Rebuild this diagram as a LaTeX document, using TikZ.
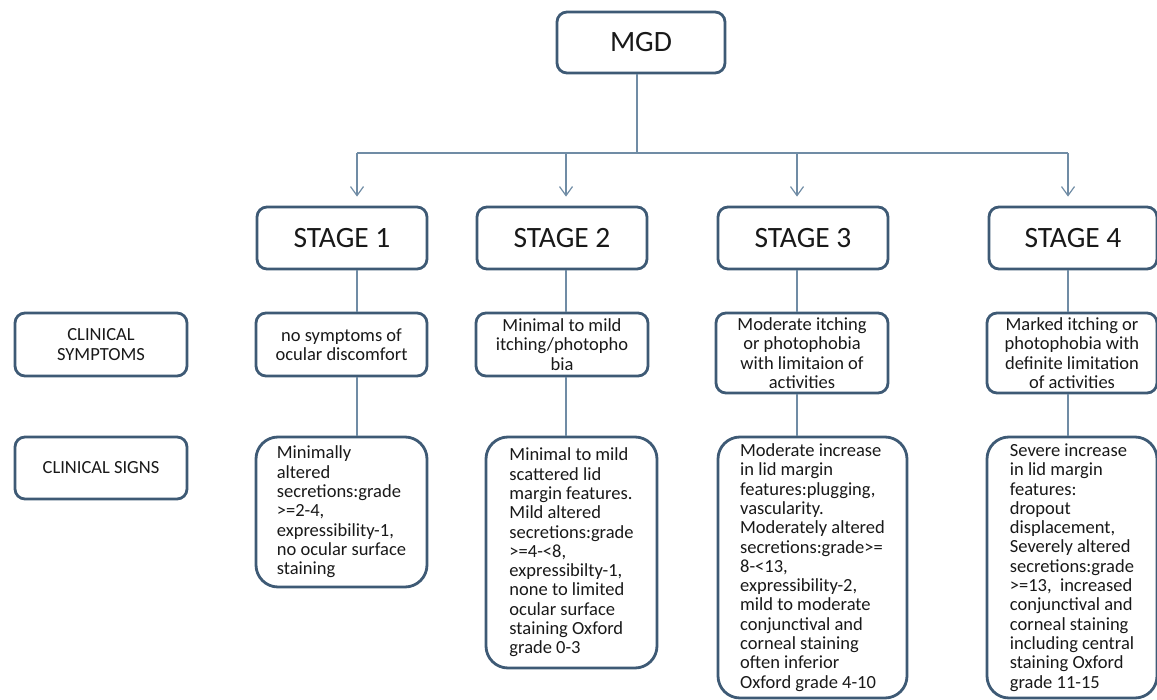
\documentclass[tikz,border=0pt]{standalone}
\usepackage{fontspec}
\setmainfont{Carlito}
\usepackage{tikz}
\usetikzlibrary{arrows.meta}
\definecolor{boxline}{RGB}{62,90,117}
\definecolor{linkline}{RGB}{112,140,165}
\definecolor{txt}{RGB}{25,25,25}

\begin{document}
\begin{tikzpicture}[x=1pt,y=-1pt,
    box/.style={draw=boxline,line width=2.8pt,rounded corners=10pt,fill=white,text=txt,
        align=center,inner sep=0pt,font=\fontsize{18.5}{19.3}\selectfont},
    stagebox/.style={box,minimum width=170pt,minimum height=62pt,font=\fontsize{29.5}{31}\selectfont},
    signbox/.style={box,rounded corners=22pt,align=left},
    link/.style={draw=linkline,line width=1.2pt},
    linkarrow/.style={link,-{Straight Barb[length=9pt,width=13pt,line width=1.2pt]},shorten >=9pt}]
    \useasboundingbox (0,0) rectangle (1157,700);

    \node[stagebox,minimum width=168pt,minimum height=61pt] (mgd) at (641,42.5) {MGD};

    \node[stagebox] (stage1) at (342,238) {STAGE 1};
    \node[stagebox] (stage2) at (562,238) {STAGE 2};
    \node[stagebox] (stage3) at (803,238) {STAGE 3};
    \node[stagebox,minimum width=168pt] (stage4) at (1073,238) {STAGE 4};

    \node[box,minimum width=172pt,minimum height=63pt] (clinsym) at (101,344.5) {CLINICAL\\SYMPTOMS};
    \node[box,minimum width=172pt,minimum height=62pt] (clinsig) at (101,468) {CLINICAL SIGNS};

    \node[box,minimum width=171pt,minimum height=63pt] (sym1) at (341.5,344.5) {no symptoms of\\ocular discomfort};
    \node[box,minimum width=172pt,minimum height=63pt] (sym2) at (562,344.5) {Minimal to mild\\itching/photopho\\bia};
    \node[box,minimum width=172pt,minimum height=80pt] (sym3) at (802,353) {Moderate itching\\or photophobia\\with limitaion of\\activities};
    \node[box,minimum width=170pt,minimum height=80pt] (sym4) at (1072,353) {Marked itching or\\photophobia with\\definite limitation\\of activities};

    \node[signbox,minimum width=171pt,minimum height=150pt] (sig1) at (341.5,512)
        {Minimally\\altered\\secretions:grade\\>=2-4,\\expressibility-1,\\no ocular surface\\staining};
    \node[signbox,minimum width=171pt,minimum height=231pt] (sig2) at (571.5,552.5)
        {Minimal to mild\\scattered lid\\margin features.\\Mild altered\\secretions:grade\\>=4-<8,\\expressibilty-1,\\none to limited\\ocular surface\\staining Oxford\\grade 0-3};
    \node[signbox,minimum width=189pt,minimum height=261pt] (sig3) at (812.5,567.5)
        {Moderate increase\\in lid margin\\features:plugging,\\vascularity.\\Moderately altered\\secretions:grade>=\\8-<13,\\expressibility-2,\\mild to moderate\\conjunctival and\\corneal staining\\often inferior\\Oxford grade 4-10};
    \node[signbox,minimum width=170pt,minimum height=261pt] (sig4) at (1072,567.5)
        {Severe increase\\in lid margin\\features:\\dropout\\displacement,\\Severely altered\\secretions:grade\\>=13,~ increased\\conjunctival and\\corneal staining\\including central\\staining Oxford\\grade 11-15};

    % branch points on the bar
    \coordinate (bus) at (637,153);
    \coordinate (bus1) at (357,153);
    \coordinate (bus2) at (566,153);
    \coordinate (bus3) at (797,153);
    \coordinate (bus4) at (1068,153);

    \draw[link] (mgd.south -| bus) -- (bus);
    \draw[link] (bus1) -- (bus4);
    \foreach \i in {1,...,4} {
        \draw[linkarrow] (bus\i) -- (bus\i |- stage\i.north);
        \draw[link] (bus\i |- stage\i.south) -- (bus\i |- sym\i.north);
        \draw[link] (bus\i |- sym\i.south) -- (bus\i |- sig\i.north);
    }
\end{tikzpicture}
\end{document}
